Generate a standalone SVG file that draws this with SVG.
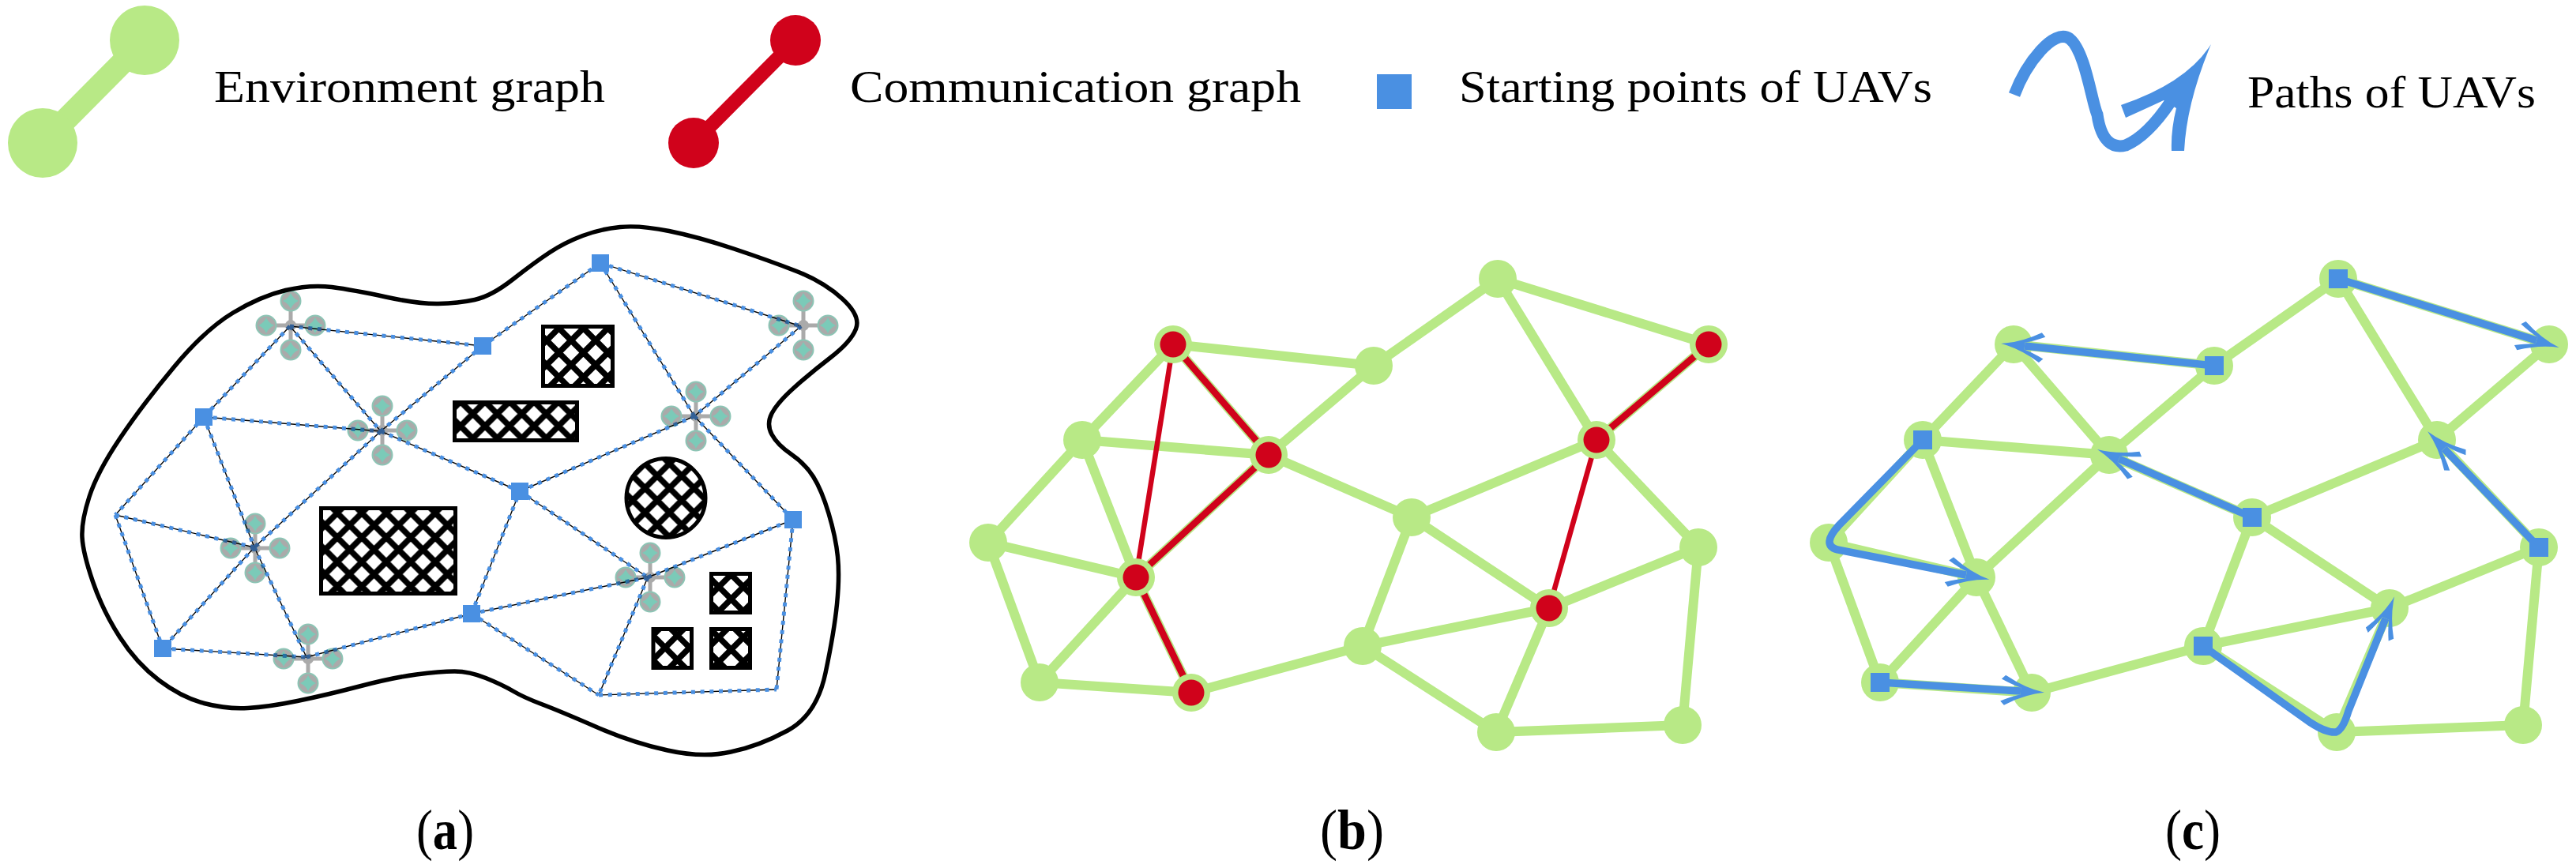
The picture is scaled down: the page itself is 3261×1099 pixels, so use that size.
<svg xmlns="http://www.w3.org/2000/svg" xmlns:xlink="http://www.w3.org/1999/xlink" width="3261" height="1099" viewBox="0 0 3261 1099">
<style>
text{font-family:"Liberation Serif","Times New Roman",serif;font-size:58px;fill:#000}
text.lbl{font-size:72px}
.lbl tspan{font-weight:bold}
.green{fill:#B8E986}.red{fill:#D0021B}.blue{fill:#4A90E2}
.env{stroke:#B8E986;stroke-width:12;fill:none}
.base{stroke:#000;stroke-width:1.4;fill:none}
.dots{stroke:#4A90E2;stroke-width:5;stroke-dasharray:5 6.7;fill:none}
.rth{stroke:#D0021B;stroke-width:8.5;fill:none}
.rtn{stroke:#D0021B;stroke-width:6.5;fill:none}
.path{stroke:#4A90E2;stroke-width:9.5;fill:none;marker-end:url(#head)}
.hatch{stroke:#000;stroke-width:5}
.drone{mix-blend-mode:multiply}
</style>
<defs>
<marker id="head" markerUnits="userSpaceOnUse" markerWidth="62" markerHeight="44" viewBox="-58 -22 60 44" refX="-30" refY="0" orient="auto">
<path class="blue" d="M0,0Q-25,-4 -50,-19L-55,-14Q-40,-7 -30,-4.5L-30,4.5Q-40,7 -55,14L-50,19Q-25,4 0,0Z"/>
</marker>
<pattern id="h" width="31" height="31" patternUnits="userSpaceOnUse">
<rect width="31" height="31" fill="#fff"/>
<path stroke="#000" stroke-width="7.5" fill="none" d="M-5,-5L36,36M36,-5L-5,36M-8,8L8,-8M23,39L39,23M23,-8L39,8M-8,23L8,39"/>
</pattern>
<pattern id="h1" href="#h" xlink:href="#h" patternTransform="translate(442.5,665)"/>
<pattern id="h2" href="#h" xlink:href="#h" patternTransform="translate(692,431)"/>
<pattern id="h3" href="#h" xlink:href="#h" patternTransform="translate(598.5,524)"/>
<pattern id="h4" href="#h" xlink:href="#h" patternTransform="translate(816.5,618)"/>
<pattern id="h5" href="#h" xlink:href="#h" patternTransform="translate(910,743)"/>
<pattern id="h6" href="#h" xlink:href="#h" patternTransform="translate(842,820)"/>
<pattern id="h7" href="#h" xlink:href="#h" patternTransform="translate(910,807)"/>
<g id="drone" class="drone">
<path d="M0,-31V31M-31,0H31" stroke="#AAA" stroke-width="5"/>
<circle r="7" fill="#AAA"/>
<g fill="#AAA" stroke="#8CC5B5" stroke-width="2">
<circle cy="-31" r="12.5"/><circle cy="31" r="12.5"/><circle cx="-31" r="12.5"/><circle cx="31" r="12.5"/>
</g>
<path id="star" fill="#7BCAB8" d="M0,-41Q3,-34 10,-31Q3,-28 0,-21Q-3,-28 -10,-31Q-3,-34 0,-41ZM0,21Q3,28 10,31Q3,34 0,41Q-3,34 -10,31Q-3,28 0,21ZM-31,-10Q-28,-3 -21,0Q-28,3 -31,10Q-34,3 -41,0Q-34,-3 -31,-10ZM31,-10Q34,-3 41,0Q34,3 31,10Q28,3 21,0Q28,-3 31,-10Z"/>
</g>
<g id="net">
<line x1="367" y1="413" x2="611" y2="438"/><line x1="611" y1="438" x2="760" y2="333"/><line x1="760" y1="333" x2="1014" y2="413"/><line x1="760" y1="333" x2="879" y2="527"/><line x1="1014" y1="413" x2="879" y2="527"/><line x1="367" y1="413" x2="258" y2="528"/><line x1="367" y1="413" x2="482" y2="546"/><line x1="611" y1="438" x2="482" y2="546"/><line x1="258" y1="528" x2="482" y2="546"/><line x1="258" y1="528" x2="146" y2="652"/><line x1="258" y1="528" x2="322" y2="693"/><line x1="482" y1="546" x2="322" y2="693"/><line x1="482" y1="546" x2="658" y2="622"/><line x1="879" y1="527" x2="658" y2="622"/><line x1="879" y1="527" x2="1004" y2="658"/><line x1="146" y1="652" x2="322" y2="693"/><line x1="146" y1="652" x2="206" y2="821"/><line x1="322" y1="693" x2="206" y2="821"/><line x1="322" y1="693" x2="388" y2="832"/><line x1="206" y1="821" x2="388" y2="832"/><line x1="388" y1="832" x2="597" y2="777"/><line x1="597" y1="777" x2="658" y2="622"/><line x1="658" y1="622" x2="820" y2="731"/><line x1="597" y1="777" x2="820" y2="731"/><line x1="597" y1="777" x2="758" y2="880"/><line x1="820" y1="731" x2="758" y2="880"/><line x1="820" y1="731" x2="1004" y2="658"/><line x1="1004" y1="658" x2="983" y2="873"/><line x1="758" y1="880" x2="983" y2="873"/>
</g>
<g id="envg">
<line x1="1485" y1="436" x2="1739" y2="463"/><line x1="1739" y1="463" x2="1896" y2="353"/><line x1="1896" y1="353" x2="2163" y2="436"/><line x1="1896" y1="353" x2="2021" y2="557"/><line x1="2163" y1="436" x2="2021" y2="557"/><line x1="1485" y1="436" x2="1370" y2="557"/><line x1="1485" y1="436" x2="1606" y2="576"/><line x1="1739" y1="463" x2="1606" y2="576"/><line x1="1370" y1="557" x2="1606" y2="576"/><line x1="1370" y1="557" x2="1251" y2="687"/><line x1="1370" y1="557" x2="1438" y2="731"/><line x1="1606" y1="576" x2="1438" y2="731"/><line x1="1606" y1="576" x2="1787" y2="655"/><line x1="2021" y1="557" x2="1787" y2="655"/><line x1="2021" y1="557" x2="2150" y2="693"/><line x1="1251" y1="687" x2="1438" y2="731"/><line x1="1251" y1="687" x2="1316" y2="864"/><line x1="1438" y1="731" x2="1316" y2="864"/><line x1="1438" y1="731" x2="1508" y2="877"/><line x1="1316" y1="864" x2="1508" y2="877"/><line x1="1508" y1="877" x2="1725" y2="818"/><line x1="1725" y1="818" x2="1787" y2="655"/><line x1="1787" y1="655" x2="1961" y2="770"/><line x1="1725" y1="818" x2="1961" y2="770"/><line x1="1725" y1="818" x2="1894" y2="927"/><line x1="1961" y1="770" x2="1894" y2="927"/><line x1="1961" y1="770" x2="2150" y2="693"/><line x1="2150" y1="693" x2="2130" y2="918"/><line x1="1894" y1="927" x2="2130" y2="918"/>
</g>
<g id="envn" class="green">
<circle cx="1485" cy="436" r="24"/><circle cx="1739" cy="463" r="24"/><circle cx="1896" cy="353" r="24"/><circle cx="2163" cy="436" r="24"/><circle cx="1370" cy="557" r="24"/><circle cx="1606" cy="576" r="24"/><circle cx="2021" cy="557" r="24"/><circle cx="1251" cy="687" r="24"/><circle cx="1787" cy="655" r="24"/><circle cx="2150" cy="693" r="24"/><circle cx="1438" cy="731" r="24"/><circle cx="1961" cy="770" r="24"/><circle cx="1725" cy="818" r="24"/><circle cx="1316" cy="864" r="24"/><circle cx="1508" cy="877" r="24"/><circle cx="1894" cy="927" r="24"/><circle cx="2130" cy="918" r="24"/>
</g>
</defs>

<g id="legend-environment">
<line x1="183" y1="51" x2="54" y2="181" stroke="#B8E986" stroke-width="29"/>
<circle class="green" cx="183" cy="51" r="44"/><circle class="green" cx="54" cy="181" r="44"/>
<text x="271" y="129" textLength="495" lengthAdjust="spacingAndGlyphs">Environment graph</text>
</g>
<g id="legend-communication">
<line x1="1007" y1="51" x2="878" y2="181" stroke="#D0021B" stroke-width="18"/>
<circle class="red" cx="1007" cy="51" r="32"/><circle class="red" cx="878" cy="181" r="32"/>
<text x="1076" y="129" textLength="571" lengthAdjust="spacingAndGlyphs">Communication graph</text>
</g>
<g id="legend-start">
<rect class="blue" x="1743" y="94" width="44" height="44"/>
<text x="1847" y="129" textLength="599" lengthAdjust="spacingAndGlyphs">Starting points of UAVs</text>
</g>
<g id="legend-paths">
<path d="M2550,120C2565,80 2600,35 2620,49C2640,65 2648,130 2655,145C2660,180 2675,188 2691,184C2712,175 2730,155 2747,130" fill="none" stroke="#4A90E2" stroke-width="15"/>
<path class="blue" d="M2799,56Q2768,105 2685,133L2691,149Q2722,135 2739,127L2755,137Q2748,165 2749,191L2765,191Q2768,130 2799,56Z"/>
<text x="2845" y="136" textLength="365" lengthAdjust="spacingAndGlyphs">Paths of UAVs</text>
</g>

<g id="panel-a">
<path id="boundary" fill="none" stroke="#000" stroke-width="5.5" d="M113,629Q123,598 151.5,555.5Q180,513 220,465Q260,417 295,396Q330,375 361.5,367.5Q393,360 420,363.5Q447,367 488.5,376Q530,385 555,384.5Q580,384 601,379.5Q622,375 649.5,353.5Q677,332 696,319.5Q715,307 737.5,298.5Q760,290 785,287.5Q810,285 847,292.5Q884,300 929,315Q974,330 1008.5,343.5Q1043,357 1066.5,378.5Q1090,400 1083.5,416.5Q1077,433 1051,453Q1025,473 1004.5,491.5Q984,510 977,523.5Q970,537 977,550Q984,563 1001.5,575Q1019,587 1029.5,603.5Q1040,620 1049,650Q1058,680 1060.5,705Q1063,730 1059.5,765Q1056,800 1045,852Q1034,905 997,925Q960,945 925,952Q890,960 845,950Q800,940 754,920Q708,900 685.5,891.5Q663,883 649.5,875Q636,867 615,858.5Q594,850 575.5,850Q557,850 527,854Q497,858 455,869Q413,880 376.5,887.5Q340,895 313.5,896.5Q287,898 258.5,890.5Q230,883 201.5,861.5Q173,840 151.5,806.5Q130,773 117.5,736.5Q105,700 104,680Q103,660 113,629Z"/>
<g id="obstacles">
<rect class="hatch" x="406.5" y="643.5" width="170" height="108" fill="url(#h1)"/>
<rect class="hatch" x="687.5" y="413.5" width="88" height="75" fill="url(#h2)"/>
<rect class="hatch" x="575.5" y="509.5" width="155" height="48" fill="url(#h3)"/>
<circle class="hatch" cx="843" cy="630.5" r="50" fill="url(#h4)"/>
<rect class="hatch" x="900.5" y="726.5" width="49" height="49" fill="url(#h5)"/>
<rect class="hatch" x="827" y="796.5" width="48.5" height="49" fill="url(#h6)"/>
<rect class="hatch" x="900.5" y="796.5" width="49" height="49" fill="url(#h7)"/>
</g>
<g id="connectors-a">
<use href="#net" class="base"/>
<use href="#net" class="dots"/>
</g>
<g id="uav-1"><use href="#drone" x="368" y="412"/></g>
<g id="uav-2"><use href="#drone" x="484" y="545"/></g>
<g id="uav-3"><use href="#drone" x="881" y="527"/></g>
<g id="uav-4"><use href="#drone" x="1017" y="412"/></g>
<g id="uav-5"><use href="#drone" x="323" y="694"/></g>
<g id="uav-6"><use href="#drone" x="390" y="834"/></g>
<g id="uav-7"><use href="#drone" x="823" y="731"/></g>
<g id="start-a" class="blue">
<rect x="247" y="517" width="22" height="22"/><rect x="749" y="322" width="22" height="22"/><rect x="600" y="427" width="22" height="22"/><rect x="195" y="810" width="22" height="22"/><rect x="647" y="611" width="22" height="22"/><rect x="586" y="766" width="22" height="22"/><rect x="993" y="647" width="22" height="22"/>
</g>
<text class="lbl" x="527" y="1075" textLength="73" lengthAdjust="spacingAndGlyphs">(<tspan>a</tspan>)</text>
</g>

<g id="panel-b">
<g id="connectors-b">
<use href="#envg" class="env"/>
<line class="rtn" x1="1485" y1="436" x2="1438" y2="731"/>
<line class="rth" x1="1485" y1="436" x2="1606" y2="576"/>
<line class="rth" x1="1606" y1="576" x2="1438" y2="731"/>
<line class="rth" x1="1438" y1="731" x2="1508" y2="877"/>
<line class="rth" x1="2163" y1="436" x2="2021" y2="557"/>
<line class="rtn" x1="2021" y1="557" x2="1961" y2="770"/>
</g>
<g id="nodes-b">
<use href="#envn"/>
<g class="red"><circle cx="1485" cy="436" r="16.5"/><circle cx="1606" cy="576" r="16.5"/><circle cx="1438" cy="731" r="16.5"/><circle cx="1508" cy="877" r="16.5"/><circle cx="2163" cy="436" r="16.5"/><circle cx="2021" cy="557" r="16.5"/><circle cx="1961" cy="770" r="16.5"/></g>
</g>
<text class="lbl" x="1671" y="1075" textLength="81" lengthAdjust="spacingAndGlyphs">(<tspan>b</tspan>)</text>
</g>

<g id="panel-c">
<g id="connectors-c">
<use href="#envg" class="env" transform="translate(1064,0)"/>
</g>
<g id="nodes-c">
<use href="#envn" transform="translate(1064,0)"/>
</g>
<g id="paths-c">
<path class="path" d="M2803,463L2563,438"/>
<path class="path" d="M2960,353L3211,431"/>
<path class="path" d="M2851,655L2682.5,581"/>
<path class="path" d="M3214,693L3094,568"/>
<path class="path" d="M2434,557L2328,665Q2305,690 2326,696L2489,728"/>
<path class="path" d="M2380,864L2558,875"/>
<path class="path" d="M2789,818L2925,915Q2945,928 2957,927Q2966,924 2973,900L3020,783"/>
</g>
<g id="start-c" class="blue">
<rect x="2422" y="545" width="24" height="24"/><rect x="2948" y="341" width="24" height="24"/><rect x="2791" y="451" width="24" height="24"/><rect x="2839" y="643" width="24" height="24"/><rect x="3202" y="681" width="24" height="24"/><rect x="2368" y="852" width="24" height="24"/><rect x="2777" y="806" width="24" height="24"/>
</g>
<text class="lbl" x="2741" y="1075" textLength="70" lengthAdjust="spacingAndGlyphs">(<tspan>c</tspan>)</text>
</g>
</svg>
